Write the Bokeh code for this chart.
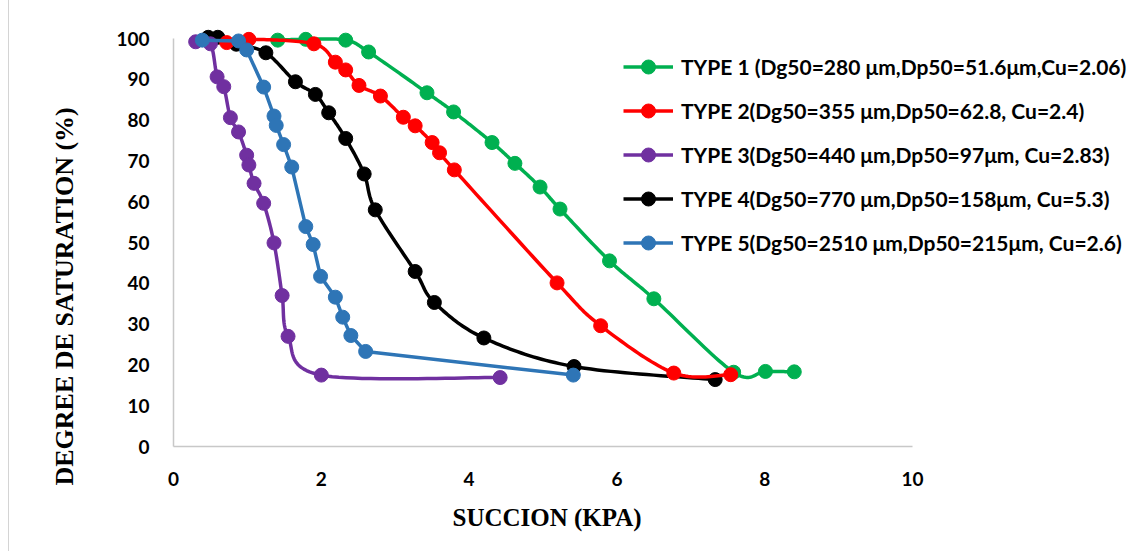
import numpy as np
from bokeh.plotting import figure
from bokeh.models import Range1d, FixedTicker, Legend, LegendItem, Title
from bokeh.embed import file_html
from bokeh.resources import INLINE

# ---- data ----
type1_x = [1.41, 1.79, 2.33, 2.64, 3.43, 3.79, 4.31, 4.62, 4.96, 5.23, 5.90, 6.50, 7.58, 8.01, 8.40]
type1_y = [99.6, 99.8, 99.6, 96.7, 86.7, 82.0, 74.5, 69.4, 63.6, 58.2, 45.5, 36.2, 18.2, 18.4, 18.3]

type2_x = [0.72, 1.02, 1.90, 2.19, 2.33, 2.51, 2.80, 3.11, 3.27, 3.50, 3.60, 3.80, 5.19, 5.78, 6.77, 7.54]
type2_y = [99.0, 99.8, 98.7, 94.2, 92.3, 88.5, 85.9, 80.7, 78.6, 74.5, 72.0, 67.8, 40.1, 29.6, 18.0, 17.6]

type3_x = [0.30, 0.50, 0.59, 0.68, 0.77, 0.88, 0.99, 1.02, 1.09, 1.22, 1.36, 1.47, 1.55, 2.00, 4.42]
type3_y = [99.2, 98.7, 90.6, 88.2, 80.6, 77.1, 71.4, 69.0, 64.5, 59.6, 49.9, 37.0, 27.0, 17.5, 16.9]

type4_x = [0.47, 0.60, 0.85, 1.25, 1.65, 1.92, 2.10, 2.33, 2.58, 2.73, 3.27, 3.53, 4.20, 5.42, 7.33]
type4_y = [100.3, 100.3, 98.6, 96.5, 89.4, 86.3, 81.8, 75.5, 66.8, 58.0, 42.9, 35.3, 26.6, 19.6, 16.4]

type5_x = [0.39, 0.88, 0.99, 1.22, 1.36, 1.39, 1.49, 1.60, 1.79, 1.89, 1.99, 2.19, 2.29, 2.40, 2.60, 5.41]
type5_y = [99.6, 99.4, 97.2, 88.1, 81.0, 78.7, 74.0, 68.5, 53.9, 49.5, 41.7, 36.6, 31.7, 27.2, 23.3, 17.5]

labels = [
    "TYPE 1 (Dg50=280 \u03bcm,Dp50=51.6\u03bcm,Cu=2.06)",
    "TYPE 2(Dg50=355 \u03bcm,Dp50=62.8, Cu=2.4)",
    "TYPE 3(Dg50=440 \u03bcm,Dp50=97\u03bcm, Cu=2.83)",
    "TYPE 4(Dg50=770 \u03bcm,Dp50=158\u03bcm, Cu=5.3)",
    "TYPE 5(Dg50=2510 \u03bcm,Dp50=215\u03bcm, Cu=2.6)",
]
colors = ["#00B050", "#FF0000", "#7030A0", "#000000", "#2E75B6"]
smoothed = [True, True, True, True, False]
x_ticks = [0, 2, 4, 6, 8, 10]
y_ticks = [0, 10, 20, 30, 40, 50, 60, 70, 80, 90, 100]
x_title = "SUCCION (KPA)"
y_title = "DEGREE DE SATURATION (%)"


def smooth(xs, ys, n=24):
    """Excel-like smoothed line (Catmull-Rom Bezier)."""
    pts = np.column_stack([xs, ys]).astype(float)
    t = np.linspace(0, 1, n)[:, None]
    out = [pts[:1]]
    for i in range(len(pts) - 1):
        p0 = pts[i - 1] if i > 0 else pts[i]
        p1 = pts[i]
        p2 = pts[i + 1]
        p3 = pts[i + 2] if i + 2 < len(pts) else pts[i + 1]
        c1 = p1 + (p2 - p0) / 6.0
        c2 = p2 - (p3 - p1) / 6.0
        seg = ((1 - t) ** 3) * p1 + 3 * ((1 - t) ** 2) * t * c1 + 3 * (1 - t) * t ** 2 * c2 + t ** 3 * p2
        out.append(seg[1:])
    arr = np.vstack(out)
    return arr[:, 0], arr[:, 1]


series = [(type1_x, type1_y), (type2_x, type2_y), (type3_x, type3_y),
          (type4_x, type4_y), (type5_x, type5_y)]

p = figure(width=1146, height=551, output_backend="svg", toolbar_location=None,
           x_range=Range1d(0, 13.085), y_range=Range1d(0, 103.19),
           min_border_left=173, min_border_right=6, min_border_top=25, min_border_bottom=105)
p.outline_line_color = None
p.grid.visible = False
p.background_fill_color = "white"
p.border_fill_color = None
# faint chart-area border line on the left, as in the reference
p.styles = {
    "background": "linear-gradient(to right, #ffffff 8px, #d4d4d4 8px, #d4d4d4 9px, #ffffff 9px)",
}

renderers = {}
for idx in [0, 3, 1, 2, 4]:
    xs, ys = series[idx]
    if smoothed[idx]:
        sx, sy = smooth(xs, ys)
    else:
        sx, sy = xs, ys
    ln = p.line(sx, sy, line_color=colors[idx], line_width=3.5, line_join="round")
    sc = p.scatter(xs, ys, size=14, marker="circle", fill_color=colors[idx], line_color=colors[idx])
    renderers[idx] = (ln, sc)

items = [LegendItem(label=labels[i], renderers=list(renderers[i])) for i in range(5)]
legend = Legend(items=items, location=(450, 186), orientation="vertical",
                label_text_font="Lato", label_text_font_style="bold", label_text_font_size="21px",
                label_text_color="black", glyph_width=50, glyph_height=35, label_height=35,
                spacing=9, label_standoff=8, padding=0, margin=0,
                border_line_color=None, background_fill_alpha=0)
p.add_layout(legend, "center")

for ax in (p.xaxis[0], p.yaxis[0]):
    ax.major_tick_line_color = None
    ax.minor_tick_line_color = None
    ax.axis_line_color = "#C8C8C8"
    ax.axis_line_width = 1.5
    ax.major_label_text_font = "Lato"
    ax.major_label_text_font_style = "bold"
    ax.major_label_text_font_size = "19px"
    ax.major_label_text_color = "black"

p.xaxis.ticker = FixedTicker(ticks=x_ticks)
p.yaxis.ticker = FixedTicker(ticks=y_ticks)
p.xaxis.bounds = (0, 10)
p.yaxis.bounds = (0, 100)
p.xaxis.major_label_standoff = 19
p.yaxis.major_label_standoff = 18

# axis titles as side titles (positioned like the reference, not frame-centred)
xt = Title(text=x_title, align="left", offset=279, standoff=30, vertical_align="top",
           text_font="Liberation Serif", text_font_style="bold", text_font_size="25px",
           text_color="black")
yt = Title(text=y_title, align="left", offset=-39, standoff=68, vertical_align="middle",
           text_font="Liberation Serif", text_font_style="bold", text_font_size="26px",
           text_color="black")
p.add_layout(xt, "below")
p.add_layout(yt, "left")

open("out.html", "w").write(file_html(p, INLINE))
